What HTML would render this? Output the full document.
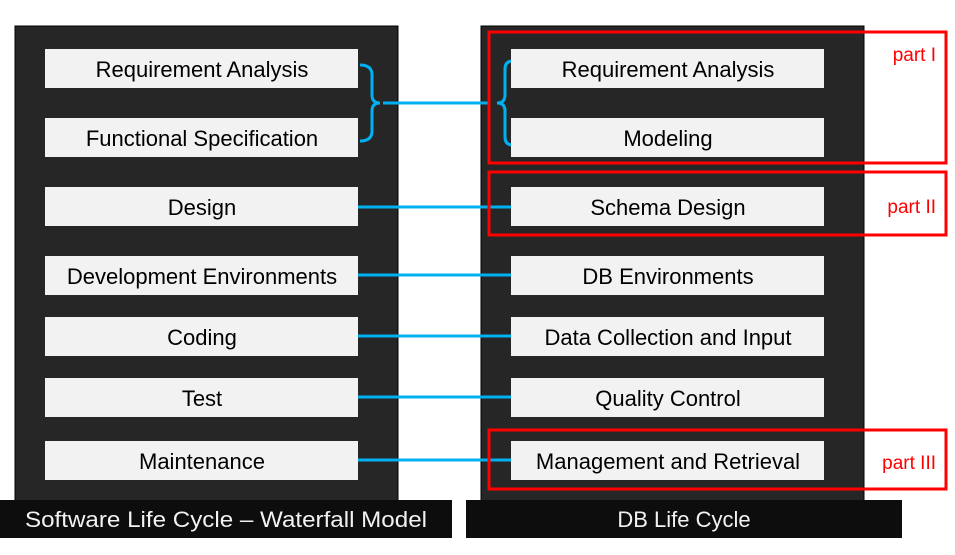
<!DOCTYPE html>
<html><head><meta charset="utf-8"><style>html,body{margin:0;padding:0;background:#fff}svg{display:block}</style></head>
<body>
<svg width="955" height="555" viewBox="0 0 955 555" xmlns="http://www.w3.org/2000/svg" font-family="Liberation Sans, Arial, sans-serif">
<rect x="15" y="26" width="383" height="480" fill="#262626" stroke="#000" stroke-width="1"/>
<rect x="481" y="26" width="383" height="480" fill="#262626" stroke="#000" stroke-width="1"/>
<rect x="0" y="500" width="452" height="38" fill="#0d0d0d"/>
<rect x="466" y="500" width="436" height="38" fill="#0d0d0d"/>
<text x="226" y="527" fill="#f2f2f2" font-size="22" text-anchor="middle" textLength="402" lengthAdjust="spacingAndGlyphs">Software Life Cycle – Waterfall Model</text>
<text x="684" y="527" fill="#f2f2f2" font-size="22" text-anchor="middle">DB Life Cycle</text>
<g stroke="#00b0f0" stroke-width="3" fill="none">
<line x1="358" y1="207" x2="511" y2="207"/>
<line x1="358" y1="275" x2="511" y2="275"/>
<line x1="358" y1="336" x2="511" y2="336"/>
<line x1="358" y1="397" x2="511" y2="397"/>
<line x1="358" y1="460" x2="511" y2="460"/>
<line x1="383" y1="103" x2="490" y2="103"/>
<path d="M360 65 q12 0 12 10 v20 q0 8 8 8 q-8 0 -8 8 v20 q0 10 -12 10"/>
<path d="M513 61 q-8 0 -8 8 v26 q0 8 -8 8 q8 0 8 8 v26 q0 8 8 8"/>
</g>
<g fill="#f2f2f2">
<rect x="45" y="49" width="313" height="39"/><rect x="45" y="118" width="313" height="39"/>
<rect x="45" y="187" width="313" height="39"/><rect x="45" y="256" width="313" height="39"/>
<rect x="45" y="317" width="313" height="39"/><rect x="45" y="378" width="313" height="39"/>
<rect x="45" y="441" width="313" height="39"/>
<rect x="511" y="49" width="313" height="39"/><rect x="511" y="118" width="313" height="39"/>
<rect x="511" y="187" width="313" height="39"/><rect x="511" y="256" width="313" height="39"/>
<rect x="511" y="317" width="313" height="39"/><rect x="511" y="378" width="313" height="39"/>
<rect x="511" y="441" width="313" height="39"/>
</g>
<g fill="#000" font-size="22" text-anchor="middle">
<text x="202" y="77">Requirement Analysis</text>
<text x="202" y="146">Functional Specification</text>
<text x="202" y="215">Design</text>
<text x="202" y="284">Development Environments</text>
<text x="202" y="345">Coding</text>
<text x="202" y="406">Test</text>
<text x="202" y="469">Maintenance</text>
<text x="668" y="77">Requirement Analysis</text>
<text x="668" y="146">Modeling</text>
<text x="668" y="215">Schema Design</text>
<text x="668" y="284">DB Environments</text>
<text x="668" y="345">Data Collection and Input</text>
<text x="668" y="406">Quality Control</text>
<text x="668" y="469">Management and Retrieval</text>
</g>
<g stroke="#ff0000" stroke-width="3" fill="none">
<rect x="489" y="32" width="457" height="131"/>
<rect x="489" y="172" width="457" height="63"/>
<rect x="489" y="430" width="457" height="59"/>
</g>
<g fill="#ff0000" font-size="19" text-anchor="end">
<text x="936" y="61">part I</text>
<text x="936" y="213">part II</text>
<text x="936" y="469">part III</text>
</g>
</svg>
</body></html>
